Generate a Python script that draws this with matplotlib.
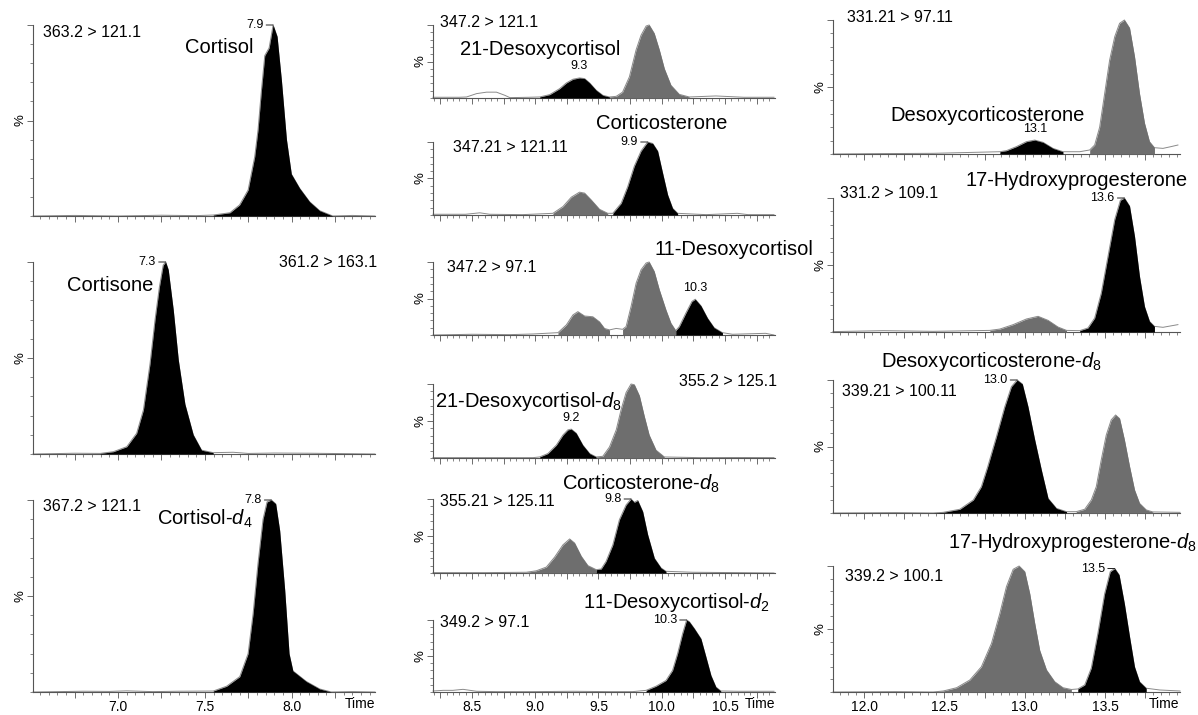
import numpy as np
import matplotlib
matplotlib.use('Agg')
import matplotlib.pyplot as plt
from matplotlib.ticker import MultipleLocator, FuncFormatter

plt.rcParams['font.family'] = ['Liberation Sans', 'DejaVu Sans']
plt.rcParams['mathtext.fontset'] = 'custom'
plt.rcParams['mathtext.rm'] = 'Liberation Sans'
plt.rcParams['mathtext.it'] = 'Liberation Sans:italic'

BLACK = '#000000'
GRAY = '#6e6e6e'

# ---- left column: cortisol / cortisone / cortisol-d4 (time in min, intensity in %)
cortisol_t = [6.51, 6.75, 7.0, 7.25, 7.45, 7.548, 7.644, 7.70, 7.749, 7.787, 7.806, 7.826, 7.845,
              7.87, 7.893, 7.916, 7.941, 7.97, 7.998, 8.046, 8.103, 8.161, 8.237, 8.35, 8.48]
cortisol_y = [0, 0.3, 0, 0.4, 0.2, 0.5, 1.7, 5.8, 13.6, 31, 45, 66, 84,
              88, 100, 94, 71, 40, 22, 14.5, 7.5, 2.8, 0, 0.3, 0]

cortisone_t = [6.51, 6.75, 6.897, 6.973, 7.05, 7.107, 7.146, 7.184, 7.213, 7.238, 7.26, 7.274, 7.289,
               7.318, 7.347, 7.385, 7.433, 7.481, 7.548, 7.663, 7.75, 7.9, 8.1, 8.3, 8.48]
cortisone_y = [0, 0.4, 0.3, 1.2, 3.8, 10.8, 23, 47, 70, 87, 98.4, 100, 96,
               75, 49, 26, 10, 2, 0.7, 0.9, 0.3, 0.5, 0.4, 0.2, 0]

cortisol_d4_t = [6.51, 6.8, 6.95, 7.05, 7.2, 7.35, 7.548, 7.625, 7.701, 7.749, 7.778, 7.806, 7.835,
                 7.858, 7.883, 7.908, 7.931, 7.96, 7.985, 8.007, 8.084, 8.161, 8.228, 8.35, 8.48]
cortisol_d4_y = [0, 0.4, 0.3, 0.6, 0.2, 0.4, 0.5, 3, 8, 20, 41, 67, 90,
                 99, 100, 98, 84, 53, 20, 11, 5.5, 1.6, 0, 0.2, 0]

# ---- middle column
desoxy21_t = [8.193, 8.40, 8.458, 8.537, 8.616, 8.694, 8.76, 8.80, 8.95, 9.035, 9.114, 9.193, 9.246,
              9.298, 9.35, 9.39, 9.43, 9.482, 9.534, 9.587, 9.64, 9.69, 9.744, 9.797, 9.836, 9.876,
              9.90, 9.94, 9.98, 10.02, 10.072, 10.138, 10.217, 10.427, 10.65, 10.886]
desoxy21_y = [1, 1, 1.4, 6, 8, 8, 3.7, 0.5, 1, 1.4, 4.6, 12.8, 20.6,
              25.7, 27.5, 26.6, 20.6, 10.6, 3.7, 1.4, 2.3, 8, 29, 66, 86, 98.6,
              100, 88.5, 66, 40, 17.4, 5, 1.4, 2.8, 1, 1]

corticosterone_t = [8.193, 8.45, 8.563, 8.64, 8.9, 9.14, 9.219, 9.285, 9.35, 9.39, 9.442, 9.508, 9.573,
                    9.613, 9.679, 9.731, 9.783, 9.836, 9.888, 9.928, 9.967, 10.006, 10.046, 10.085,
                    10.125, 10.35, 10.597, 10.68, 10.886]
corticosterone_y = [1, 1, 3, 1, 0.5, 2.3, 11.5, 24.4, 31.3, 30, 20.7, 7.8, 2.3,
                    2.3, 16, 39, 67, 87.6, 100, 98, 87.6, 57.6, 27.6, 9.2,
                    2.3, 0.5, 2.3, 0.5, 0.5]

desoxy11_t = [8.193, 8.5, 8.8, 8.983, 9.18, 9.246, 9.298, 9.337, 9.39, 9.455, 9.508, 9.547, 9.587,
              9.64, 9.69, 9.718, 9.757, 9.797, 9.836, 9.876, 9.90, 9.94, 9.98, 10.033, 10.072,
              10.11, 10.138, 10.19, 10.238, 10.264, 10.309, 10.361, 10.413, 10.479, 10.558, 10.82, 10.886]
desoxy11_y = [0, 1, 0.5, 1.4, 3.2, 13.8, 27.5, 32, 26, 25, 18, 9, 7,
              9, 7.8, 11.5, 39, 71, 89.4, 98.6, 100, 87, 62, 34, 16,
              6, 11.5, 30, 46, 49, 40, 23, 10, 3.2, 1, 2.3, 0]

desoxy21_d8_t = [8.193, 8.6, 8.983, 9.035, 9.10, 9.167, 9.219, 9.258, 9.285, 9.324, 9.376, 9.43, 9.482,
                 9.534, 9.587, 9.64, 9.679, 9.718, 9.757, 9.783, 9.823, 9.862, 9.90, 9.954, 10.02,
                 10.3, 10.6, 10.886]
desoxy21_d8_y = [0.5, 0.5, 0.5, 1.4, 6, 17.4, 31, 38, 39, 33.5, 17.4, 6, 1.4,
                 2.3, 15, 38, 65.6, 88.5, 100, 99, 84, 56, 31, 10.6, 1.4,
                 0.5, 0.7, 0.5]

corticosterone_d8_t = [8.193, 8.6, 8.93, 9.009, 9.088, 9.154, 9.219, 9.272, 9.311, 9.364, 9.416, 9.482,
                       9.521, 9.56, 9.613, 9.665, 9.718, 9.757, 9.783, 9.81, 9.849, 9.888, 9.941,
                       9.994, 10.033, 10.243, 10.6, 10.886]
corticosterone_d8_y = [0.5, 0.5, 1, 3, 8, 21.6, 38, 46, 40.5, 22.5, 10, 4.5,
                       5.4, 15.8, 38, 72, 92, 100, 95.5, 98, 83, 52, 20,
                       6.8, 2.3, 1, 0.5, 0]

desoxy11_d2_t = [8.193, 8.274, 8.35, 8.43, 8.537, 8.7, 8.983, 9.3, 9.6, 9.77, 9.876, 9.954, 10.033,
                 10.085, 10.125, 10.164, 10.196, 10.217, 10.257, 10.309, 10.348, 10.388, 10.427,
                 10.466, 10.6, 10.886]
desoxy11_d2_y = [1.4, 2.3, 2.3, 3.7, 1, 0.5, 0.5, 1, 0.5, 0.5, 2.3, 8, 16,
                 30, 53.5, 81, 100, 97.7, 88, 74, 49, 23, 7,
                 1.4, 1, 1]

# ---- right column
doc_t = [11.807, 12.1, 12.43, 12.845, 12.886, 12.948, 13.01, 13.062, 13.114, 13.176, 13.238, 13.342,
         13.404, 13.435, 13.466, 13.497, 13.528, 13.56, 13.59, 13.62, 13.652, 13.683, 13.714, 13.745,
         13.776, 13.807, 13.86, 13.91, 13.953]
doc_y = [0, 0.3, 0.5, 1.7, 2.5, 5.5, 9.2, 10.4, 8.7, 4.2, 1.7, 1.7,
         3, 6.7, 20, 45, 70, 87.6, 97.5, 100, 94, 72.6, 45, 23,
         9.2, 4.7, 4.2, 5.5, 6.7]

ohp17_t = [11.807, 12.12, 12.43, 12.783, 12.845, 12.928, 13.01, 13.083, 13.145, 13.207, 13.26, 13.342,
           13.393, 13.435, 13.476, 13.518, 13.56, 13.595, 13.62, 13.652, 13.683, 13.714, 13.745,
           13.776, 13.807, 13.86, 13.953]
ohp17_y = [0.3, 1, 0.5, 1.2, 2.2, 5.5, 9.7, 11.7, 8.7, 3.7, 1.2, 1,
           3, 10.4, 29, 56.5, 84, 98.3, 100, 94, 71.4, 41.5, 19,
           8, 4.2, 3.5, 5.5]

doc_d8_t = [11.807, 12.2, 12.43, 12.493, 12.596, 12.68, 12.73, 12.77, 12.824, 12.876, 12.917, 12.953,
            12.985, 13.02, 13.062, 13.104, 13.145, 13.197, 13.26, 13.32, 13.373, 13.414, 13.445,
            13.476, 13.507, 13.538, 13.565, 13.59, 13.62, 13.652, 13.683, 13.714, 13.756, 13.797, 13.966]
doc_d8_y = [0, 0.3, 0, 0.5, 2.8, 9.8, 19.8, 35, 57.4, 80, 95, 100,
            97, 80, 55, 32, 11, 3.5, 1, 1, 2.8, 9.8, 19.8,
            40, 58.6, 70, 73.7, 71, 55, 35, 17.3, 7.3, 2.3, 0.8, 0.5]

ohp17_d8_t = [11.807, 12.2, 12.43, 12.493, 12.576, 12.658, 12.73, 12.793, 12.845, 12.886, 12.928, 12.965,
              13.0, 13.031, 13.062, 13.093, 13.135, 13.186, 13.238, 13.29, 13.33, 13.373, 13.414,
              13.455, 13.497, 13.532, 13.56, 13.587, 13.62, 13.652, 13.683, 13.714, 13.756, 13.84, 13.966]
ohp17_d8_y = [0, 0.3, 0, 0.8, 3.4, 9.5, 20, 38.6, 62.4, 83.6, 97.4, 100,
              95.5, 78, 54.5, 33, 17.5, 8.2, 3.4, 2, 2.4, 5.6, 19,
              46.6, 78, 95.5, 98, 93, 70, 44, 20, 8.2, 3, 1.6, 0.8]

# integration windows (start, end, colour)
cortisol_fill = [(7.548, 8.237, BLACK)]
cortisone_fill = [(6.897, 7.548, BLACK)]
cortisol_d4_fill = [(7.548, 8.228, BLACK)]
desoxy21_fill = [(9.035, 9.587, BLACK), (9.587, 10.217, GRAY)]
corticosterone_fill = [(9.14, 9.573, GRAY), (9.613, 10.125, BLACK)]
desoxy11_fill = [(9.18, 9.587, GRAY), (9.69, 10.11, GRAY), (10.11, 10.479, BLACK)]
desoxy21_d8_fill = [(9.035, 9.482, BLACK), (9.482, 10.02, GRAY)]
corticosterone_d8_fill = [(8.93, 9.482, GRAY), (9.482, 10.033, BLACK)]
desoxy11_d2_fill = [(9.876, 10.466, BLACK)]
doc_fill = [(12.845, 13.238, BLACK), (13.404, 13.807, GRAY)]
ohp17_fill = [(12.783, 13.26, GRAY), (13.342, 13.807, BLACK)]
doc_d8_fill = [(12.43, 13.26, BLACK), (13.32, 13.797, GRAY)]
ohp17_d8_fill = [(12.43, 13.29, GRAY), (13.33, 13.756, BLACK)]

W, H = 1198, 715
fig = plt.figure(figsize=(W / 100, H / 100), dpi=100)

LEFT_X = (33, 375, (6.51, 8.48))
MID_X = (433, 775, (8.193, 10.894))
RIGHT_X = (833, 1180, (11.807, 13.966))


def half_fmt(v, pos):
    if abs(v * 2 - round(v * 2)) < 1e-6:
        return '%.1f' % v
    return ''


def panel(col, top, bot, t, y, fills, bottom=False):
    x0, x1, xlim = col
    ax = fig.add_axes([x0 / W, 1 - bot / H, (x1 - x0) / W, (bot - top) / H])
    t = np.asarray(t)
    y = np.asarray(y)
    ax.plot(t, y, color='#8a8a8a', lw=0.7, zorder=2, clip_on=False)
    for a, b, c in fills:
        m = (t >= a - 1e-6) & (t <= b + 1e-6)
        ax.fill_between(t, 0, y, where=m, color=c, lw=0, zorder=3, clip_on=False)
    ax.set_xlim(*xlim)
    ax.set_ylim(0, 100)
    for s in ['top', 'right']:
        ax.spines[s].set_visible(False)
    for s in ['left', 'bottom']:
        ax.spines[s].set_color('#555555')
        ax.spines[s].set_linewidth(0.8)
    ax.xaxis.set_major_locator(MultipleLocator(0.25))
    ax.xaxis.set_minor_locator(MultipleLocator(0.05))
    ax.xaxis.set_major_formatter(FuncFormatter(half_fmt))
    ax.set_yticks([50, 100])
    ax.set_yticklabels(['%', ''])
    ax.yaxis.set_minor_locator(MultipleLocator(10))
    ax.tick_params(which='major', length=4, width=0.6, color='#555555')
    ax.tick_params(which='minor', length=2, width=0.5, color='#555555')
    ax.tick_params(axis='x', labelsize=10, pad=1.5, labelbottom=bottom)
    ax.tick_params(axis='y', labelsize=9.5, pad=1, labelrotation=90)
    for lb in ax.get_yticklabels():
        lb.set_va('center')
    if bottom:
        ax.annotate('Time', xy=(0.955, 0), xycoords='axes fraction', xytext=(0, -9),
                    textcoords='offset points', ha='center', va='center', fontsize=10)
    return ax, t, y


def apex(t, y, window):
    a, b = window[0], window[1]
    m = (t >= a - 1e-6) & (t <= b + 1e-6)
    i = np.argmax(np.where(m, y, -1))
    return t[i], y[i]


def peak_line(ax, t, y, window, label):
    ta, ya = apex(t, y, window)
    ax.annotate(label, xy=(ta, ya), xytext=(-7, 0), textcoords='offset points',
                ha='right', va='center', fontsize=9,
                arrowprops=dict(arrowstyle='-', lw=0.7, color='#222222',
                                shrinkA=0, shrinkB=0, relpos=(1, 0.5)))


def peak_top(ax, t, y, window, label):
    ta, ya = apex(t, y, window)
    ax.annotate(label, xy=(ta, ya), xytext=(0, 4), textcoords='offset points',
                ha='center', va='bottom', fontsize=9)


def mrm(ax, x, yy, s, ha='left'):
    ax.text(x, yy, s, transform=ax.transAxes, ha=ha, va='center', fontsize=11.5)


def name(ax, x, yy, s, ha='center'):
    ax.text(x, yy, s, transform=ax.transAxes, ha=ha, va='center', fontsize=14.5)


# left column
ax, t, y = panel(LEFT_X, 25, 216, cortisol_t, cortisol_y, cortisol_fill)
mrm(ax, 0.029, 0.963, '363.2 > 121.1')
name(ax, 0.544, 0.88, 'Cortisol')
peak_line(ax, t, y, cortisol_fill[0], '7.9')

ax, t, y = panel(LEFT_X, 262, 454, cortisone_t, cortisone_y, cortisone_fill)
mrm(ax, 1.006, 0.995, '361.2 > 163.1', ha='right')
name(ax, 0.225, 0.88, 'Cortisone')
peak_line(ax, t, y, cortisone_fill[0], '7.3')

ax, t, y = panel(LEFT_X, 500, 692, cortisol_d4_t, cortisol_d4_y, cortisol_d4_fill, bottom=True)
mrm(ax, 0.029, 0.964, '367.2 > 121.1')
name(ax, 0.503, 0.9, 'Cortisol-$d_4$')
peak_line(ax, t, y, cortisol_d4_fill[0], '7.8')

# middle column
ax, t, y = panel(MID_X, 25, 98, desoxy21_t, desoxy21_y, desoxy21_fill)
mrm(ax, 0.02, 1.03, '347.2 > 121.1')
name(ax, 0.079, 0.66, '21-Desoxycortisol', ha='left')
peak_top(ax, t, y, desoxy21_fill[0], '9.3')

ax, t, y = panel(MID_X, 142, 215, corticosterone_t, corticosterone_y, corticosterone_fill)
mrm(ax, 0.058, 0.93, '347.21 > 121.11')
name(ax, 0.67, 1.25, 'Corticosterone')
peak_line(ax, t, y, corticosterone_fill[1], '9.9')

ax, t, y = panel(MID_X, 262, 335, desoxy11_t, desoxy11_y, desoxy11_fill)
mrm(ax, 0.041, 0.92, '347.2 > 97.1')
name(ax, 0.88, 1.165, '11-Desoxycortisol')
peak_top(ax, t, y, desoxy11_fill[2], '10.3')

ax, t, y = panel(MID_X, 384, 458, desoxy21_d8_t, desoxy21_d8_y, desoxy21_d8_fill)
mrm(ax, 1.006, 1.03, '355.2 > 125.1', ha='right')
name(ax, 0.006, 0.76, '21-Desoxycortisol-$d_8$', ha='left')
peak_top(ax, t, y, desoxy21_d8_fill[0], '9.2')

ax, t, y = panel(MID_X, 499, 573, corticosterone_d8_t, corticosterone_d8_y, corticosterone_d8_fill)
mrm(ax, 0.02, 0.96, '355.21 > 125.11')
name(ax, 0.608, 1.21, 'Corticosterone-$d_8$')
peak_line(ax, t, y, corticosterone_d8_fill[1], '9.8')

ax, t, y = panel(MID_X, 620, 692, desoxy11_d2_t, desoxy11_d2_y, desoxy11_d2_fill, bottom=True)
mrm(ax, 0.02, 0.97, '349.2 > 97.1')
name(ax, 0.713, 1.25, '11-Desoxycortisol-$d_2$')
peak_line(ax, t, y, desoxy11_d2_fill[0], '10.3')

# right column
ax, t, y = panel(RIGHT_X, 20, 154, doc_t, doc_y, doc_fill)
mrm(ax, 0.04, 1.015, '331.21 > 97.11')
name(ax, 0.444, 0.29, 'Desoxycorticosterone')
peak_top(ax, t, y, doc_fill[0], '13.1')

ax, t, y = panel(RIGHT_X, 198, 332, ohp17_t, ohp17_y, ohp17_fill)
mrm(ax, 0.02, 1.037, '331.2 > 109.1')
name(ax, 0.703, 1.134, '17-Hydroxyprogesterone')
peak_line(ax, t, y, ohp17_fill[1], '13.6')

ax, t, y = panel(RIGHT_X, 380, 513, doc_d8_t, doc_d8_y, doc_d8_fill)
mrm(ax, 0.026, 0.91, '339.21 > 100.11')
name(ax, 0.455, 1.14, 'Desoxycorticosterone-$d_8$')
peak_line(ax, t, y, doc_d8_fill[0], '13.0')

ax, t, y = panel(RIGHT_X, 566, 692, ohp17_d8_t, ohp17_d8_y, ohp17_d8_fill, bottom=True)
mrm(ax, 0.035, 0.913, '339.2 > 100.1')
name(ax, 0.689, 1.19, '17-Hydroxyprogesterone-$d_8$')
peak_line(ax, t, y, ohp17_d8_fill[1], '13.5')

fig.savefig('out.png', dpi=100, facecolor='white')
